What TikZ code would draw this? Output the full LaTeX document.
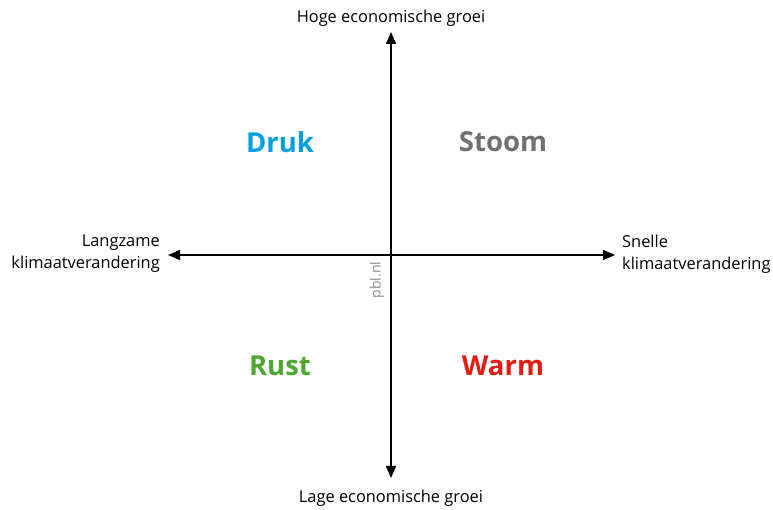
\documentclass[tikz,border=0pt]{standalone}
\usepackage{fontspec}
\setmainfont{Open Sans}
\usetikzlibrary{arrows.meta}
\definecolor{drukblue}{RGB}{0,160,226}
\definecolor{stoomgrey}{RGB}{112,112,112}
\definecolor{rustgreen}{RGB}{76,168,46}
\definecolor{warmred}{RGB}{226,30,20}
\definecolor{pblgrey}{RGB}{140,140,140}
\begin{document}
\begin{tikzpicture}[x=1pt,y=1pt,
  axis/.style={line width=1.3pt,-{Triangle[length=12pt,width=10pt]}},
  lbl/.style={font=\fontsize{16.4}{22}\selectfont, inner sep=0pt},
  scen/.style={font=\fontsize{27.5}{30}\selectfont\bfseries, inner sep=0pt}]
\useasboundingbox (0,0) rectangle (773,510);
\coordinate (o) at (391,255);
\coordinate (top) at (391,478);
\coordinate (bot) at (391,32);
\coordinate (left) at (168,255);
\coordinate (right) at (615,255);
\draw[axis] (o) -- (top);
\draw[axis] (o) -- (bot);
\draw[axis] (o) -- (left);
\draw[axis] (o) -- (right);
\node[lbl] (hoog) at (391,492) {Hoge economische groei};
\node[lbl] (laag) at (391,12) {Lage economische groei};
\node[lbl, anchor=east, align=right] (lang) at (160,256) {Langzame\\klimaatverandering};
\node[lbl, anchor=west, align=left] (snel) at (622,256) {Snelle\\klimaatverandering};
\node[scen, text=drukblue] (druk) at (280,368) {Druk};
\node[scen, text=stoomgrey] (stoom) at (503,368) {Stoom};
\node[scen, text=rustgreen] (rust) at (280,144) {Rust};
\node[scen, text=warmred] (warm) at (503,144) {Warm};
\node[rotate=90, text=pblgrey, font=\fontsize{14}{15}\selectfont, inner sep=0pt] (pbl) at (377,230) {pbl.nl};
\end{tikzpicture}
\end{document}
